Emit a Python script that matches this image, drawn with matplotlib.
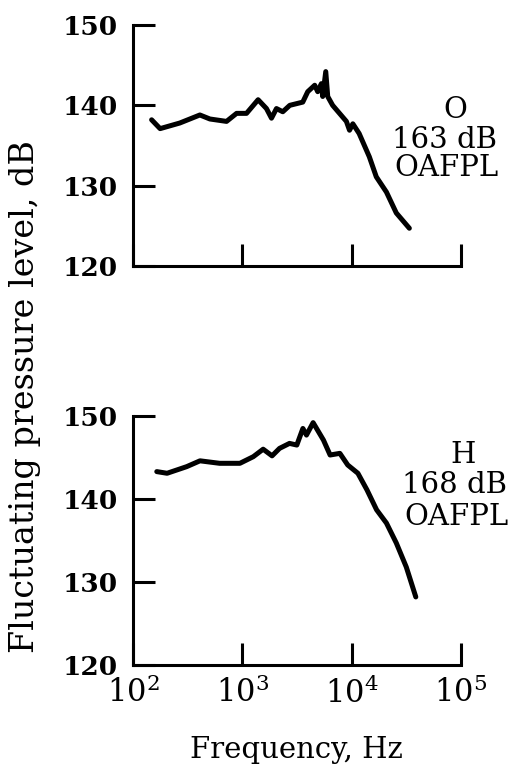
import numpy as np
import matplotlib
matplotlib.use("Agg")
import matplotlib.pyplot as plt

plt.rcParams['font.family'] = ['DejaVu Serif']
plt.rcParams['mathtext.fontset'] = 'dejavuserif'

# run O, 163 dB OAFPL
freq_o = [148, 177, 268, 409, 505, 717, 886, 1092, 1394, 1662, 1848, 2052,
          2344, 2716, 3570, 3966, 4592, 4890, 5285, 5433, 5794, 6040, 6700,
          8950, 9560, 10250, 11700, 14500, 16800, 20800, 25600, 33700]
level_o = [138.2, 137.1, 137.8, 138.8, 138.3, 138.0, 139.0, 139.0, 140.7,
           139.6, 138.4, 139.6, 139.2, 140.0, 140.4, 141.7, 142.5, 141.7,
           142.7, 141.1, 144.2, 141.1, 140.0, 138.0, 136.9, 137.7, 136.5,
           133.6, 131.1, 129.2, 126.6, 124.7]

# run H, 168 dB OAFPL
freq_h = [165, 205, 310, 410, 620, 950, 1260, 1550, 1870, 2190, 2700, 3150,
          3580, 3860, 4440, 5520, 6350, 7800, 9200, 11400, 13800, 16900,
          20800, 25600, 31600, 38600]
level_h = [143.3, 143.1, 143.9, 144.6, 144.3, 144.3, 145.1, 146.0, 145.2,
           146.1, 146.7, 146.5, 148.5, 147.7, 149.2, 147.1, 145.3, 145.5,
           144.1, 143.1, 141.1, 138.7, 137.1, 134.7, 131.8, 128.2]

yticks = [120, 130, 140, 150]
xticks = [1e2, 1e3, 1e4, 1e5]
xticklabels = [r'$10^2$', r'$10^3$', r'$10^4$', r'$10^5$']

W, H = 515, 771
fig = plt.figure(figsize=(W / 100, H / 100), dpi=100)


def px(x, y):
    return x / W, 1 - y / H


def panel(rect, f, lvl, labels):
    ax = fig.add_axes(rect)
    ax.semilogx(f, lvl, color='black', lw=3.6, solid_joinstyle='round',
                solid_capstyle='round')
    ax.set_xlim(1e2, 1e5)
    ax.set_ylim(120, 150)
    ax.set_yticks(yticks)
    ax.set_xticks(xticks)
    ax.xaxis.set_minor_locator(matplotlib.ticker.NullLocator())
    for s in ['top', 'right']:
        ax.spines[s].set_visible(False)
    for s in ['left', 'bottom']:
        ax.spines[s].set_linewidth(2.2)
    ax.tick_params(direction='in', length=16, width=2.2, labelsize=19,
                   pad=11)
    for t in ax.get_yticklabels():
        t.set_fontweight('bold')
    if labels:
        ax.set_xticklabels(xticklabels, fontsize=22)
        ax.tick_params(axis='x', pad=9)
    else:
        ax.set_xticklabels([])
    ax.patch.set_visible(False)
    return ax


x0, y0 = px(133, 266)
x1, y1 = px(461, 25)
panel([x0, y0, x1 - x0, y1 - y0], freq_o, level_o, False)

x0, y0 = px(133, 665)
x1, y1 = px(461, 416)
panel([x0, y0, x1 - x0, y1 - y0], freq_h, level_h, True)

txt = dict(ha='center', va='center', fontsize=21)
fig.text(*px(455, 110), 'O', **txt)
fig.text(*px(445, 140), '163 dB', **txt)
fig.text(*px(447, 168), 'OAFPL', **txt)
fig.text(*px(463, 455), 'H', **txt)
fig.text(*px(455, 485), '168 dB', **txt)
fig.text(*px(457, 517), 'OAFPL', **txt)

fig.text(*px(25, 397), 'Fluctuating pressure level, dB', rotation=90,
         ha='center', va='center', fontsize=24)
fig.text(*px(296, 750), 'Frequency, Hz', ha='center', va='center',
         fontsize=21)

fig.savefig('out.png', dpi=100)
